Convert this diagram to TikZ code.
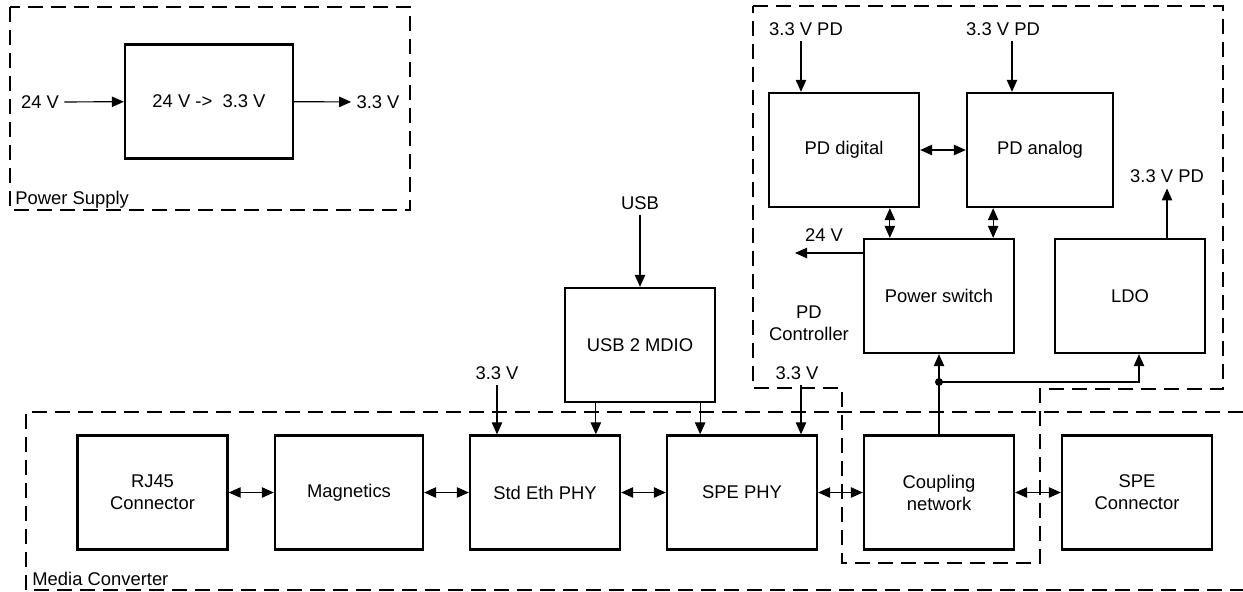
\documentclass[tikz,border=0pt]{standalone}
\usepackage{fontspec}
\setmainfont{Liberation Sans}
\usetikzlibrary{arrows.meta, positioning}

\begin{document}
\begin{tikzpicture}[x=0.5pt, y=-0.5pt,
    font=\fontsize{9.2}{11}\selectfont,
    block/.style={draw, line width=1.15pt, minimum width=75pt, minimum height=57pt, align=center, inner sep=0pt},
    lbl/.style={inner sep=2.5pt},
    arr/.style={line width=0.6pt, -{Triangle[length=6pt,width=5.2pt]}},
    biarr/.style={line width=0.6pt, {Triangle[length=6pt,width=5.2pt]}-{Triangle[length=6pt,width=5.2pt]}},
    grp/.style={line width=1pt, dash pattern=on 7.5pt off 4pt}]
\useasboundingbox (0,0) rectangle (1243,591);

% Power supply
\draw[grp] (10,7) rectangle (410,210);
\node[anchor=base west, inner sep=0pt] (pslbl) at (15,204) {Power Supply};
\node[block, minimum width=84pt] (conv) at (209,101.5) {24 V ->\ \ 3.3 V};
\node[lbl] (in24) at (40,102) {24 V};
\node[lbl] (out33) at (378,102) {3.3 V};
\draw[arr] (in24) -- (conv);
\draw[arr] (conv) -- (out33);

% PD controller
\draw[grp] (753,6) -- (1223,6) -- (1223,389) -- (1040,389) -- (1040,563)
    -- (842,563) -- (842,388) -- (753,388) -- cycle;
\node[align=center, inner sep=0pt] (pdlbl) at (809,323.5) {PD\\Controller};
\node[block] (pddig) at (844,150) {PD digital};
\node[block, minimum width=73pt] (pdana) at (1040,150) {PD analog};
\node[block] (pwrsw) at (939,296) {Power switch};
\node[block] (ldo) at (1130,296) {LDO};
\node[lbl] (pdva) at (806,29.5) {3.3 V PD};
\node[lbl] (pdvb) at (1003,29.5) {3.3 V PD};
\node[lbl] (pdvc) at (1167,176.5) {3.3 V PD};
\node[lbl] (lbl24) at (824,235.5) {24 V};
\coordinate (o24) at (795,253);
\draw[arr] (pdva.south) ++(-5,0) coordinate (a1) -- (a1 |- pddig.north);
\draw[arr] (pdvb.south) ++(9,0) coordinate (a2) -- (a2 |- pdana.north);
\draw[biarr] (pddig) -- (pdana);
\draw[biarr] (pwrsw.north west) ++(27,0) coordinate (a3) -- (a3 |- pddig.south);
\draw[biarr] (pwrsw.north east) ++(-22,0) coordinate (a4) -- (a4 |- pdana.south);
\draw[arr] (pdvc.south |- ldo.north) -- (pdvc.south);
\draw[arr] (o24 -| pwrsw.west) -- (o24);

% Media converter
\draw[grp] (1243,412) -- (26,412) -- (26,590) -- (1243,590);
\node[anchor=base west, inner sep=0pt] (mclbl) at (32,585) {Media Converter};
\node[block] (rj45) at (152.5,492.5) {RJ45\\Connector};
\node[block, minimum width=74pt] (mag) at (349,492.5) {Magnetics};
\node[block] (stdphy) at (545,492.5) {Std Eth PHY};
\node[block] (spephy) at (742,492.5) {SPE PHY};
\node[block] (coupling) at (939,492.5) {Coupling\\network};
\node[block] (speconn) at (1137,492.5) {SPE\\Connector};
\draw[biarr] (rj45) -- (mag);
\draw[biarr] (mag) -- (stdphy);
\draw[biarr] (stdphy) -- (spephy);
\draw[biarr] (spephy) -- (coupling);
\draw[biarr] (coupling) -- (speconn);

% USB and supplies
\node[block] (usb2mdio) at (640,345) {USB 2 MDIO};
\node[lbl] (usb) at (640,203) {USB};
\node[lbl] (vl) at (497,373) {3.3 V};
\node[lbl] (vr) at (797,373) {3.3 V};
\draw[arr] (usb) -- (usb2mdio);
\draw[arr] (usb2mdio.south west) ++(32,0) coordinate (u1) -- (u1 |- stdphy.north);
\draw[arr] (usb2mdio.south east) ++(-16,0) coordinate (u2) -- (u2 |- spephy.north);
\draw[arr] (vl.south) -- (vl.south |- stdphy.north);
\draw[arr] (vr.south) ++(4,0) coordinate (v2) -- (v2 |- spephy.north);

% supply from coupling network
\coordinate (jn) at (939,382);
\draw[arr] (coupling) -- (pwrsw);
\fill (jn) circle (2pt);
\draw[arr] (jn) -| ([xshift=4.5pt]ldo.south);
\end{tikzpicture}
\end{document}
